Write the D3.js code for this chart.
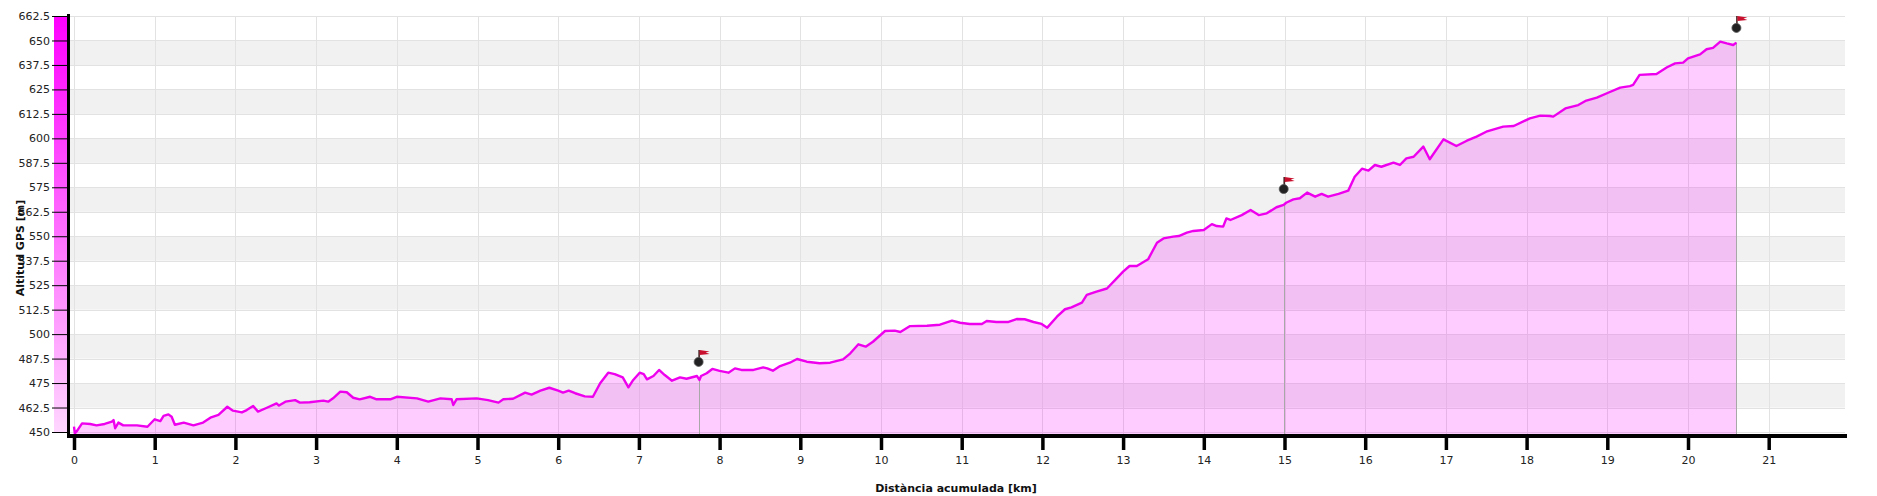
<!DOCTYPE html>
<html>
<head>
<meta charset="utf-8">
<script src="https://cdn.jsdelivr.net/npm/d3@7"></script>
<style>
  body { margin: 0; background: #fff; }
  svg { display: block; font-family: "DejaVu Sans", Verdana, sans-serif; }
</style>
</head>
<body>
<svg id="profile"></svg>
<script>
// profile: distance [km] / GPS altitude [m]
const dist = [0, 0.01, 0.04, 0.1, 0.2, 0.28, 0.38, 0.47, 0.49, 0.51, 0.55, 0.61, 0.78, 0.91,
  1.0, 1.07, 1.11, 1.17, 1.21, 1.25, 1.36, 1.48, 1.6, 1.69, 1.79, 1.9, 1.97,
  2.08, 2.14, 2.22, 2.28, 2.39, 2.51, 2.54, 2.62, 2.74, 2.8, 2.92,
  3.09, 3.15, 3.21, 3.3, 3.38, 3.46, 3.54, 3.67, 3.75, 3.92,
  4.0, 4.25, 4.39, 4.54, 4.68, 4.7, 4.74, 4.99,
  5.13, 5.26, 5.32, 5.44, 5.59, 5.67, 5.78, 5.89,
  6.0, 6.06, 6.13, 6.21, 6.33, 6.43, 6.52, 6.62, 6.7, 6.8, 6.87, 6.93,
  7.01, 7.06, 7.1, 7.18, 7.25, 7.32, 7.41, 7.51, 7.59, 7.72, 7.75, 7.77, 7.84, 7.91,
  8.0, 8.11, 8.19, 8.27, 8.42, 8.54, 8.59, 8.66, 8.75, 8.87, 8.96,
  9.08, 9.24, 9.37, 9.53, 9.62, 9.72, 9.81, 9.9,
  10.05, 10.17, 10.24, 10.36, 10.57, 10.73, 10.88, 10.98,
  11.1, 11.25, 11.31, 11.43, 11.58, 11.68, 11.78, 11.89, 11.99,
  12.06, 12.18, 12.28, 12.36, 12.49, 12.55, 12.67, 12.8, 12.9,
  13.0, 13.08, 13.17, 13.31, 13.42, 13.5, 13.62, 13.69, 13.79, 13.87,
  14.0, 14.1, 14.16, 14.24, 14.28, 14.33, 14.47, 14.58, 14.68, 14.78, 14.9, 14.99,
  15.02, 15.11, 15.19, 15.28, 15.38, 15.46, 15.54, 15.67, 15.79, 15.87, 15.96,
  16.04, 16.12, 16.2, 16.35, 16.43, 16.51, 16.6, 16.72, 16.8, 16.97,
  17.13, 17.26, 17.38, 17.5, 17.71, 17.84,
  18.04, 18.17, 18.29, 18.33, 18.48, 18.64, 18.74, 18.87,
  19.01, 19.16, 19.28, 19.32, 19.4, 19.61, 19.74, 19.84, 19.94,
  20.0, 20.15, 20.23, 20.31, 20.4, 20.48, 20.56, 20.6];
const elev = [452.7, 449.3, 450.7, 454.4, 454.1, 453.4, 454.1, 455.3, 456.1, 451.9, 454.8, 453.4, 453.4, 452.7,
  456.5, 455.6, 458.2, 459.0, 457.8, 453.7, 454.8, 453.4, 454.8, 457.3, 458.7, 462.9, 460.9,
  460.0, 461.2, 463.3, 460.4, 462.4, 464.6, 463.5, 465.5, 466.3, 465.0, 465.2,
  466.0, 465.5, 467.2, 470.6, 470.3, 467.5, 466.7, 468.0, 466.7, 466.7,
  468.0, 467.2, 465.5, 467.2, 466.7, 463.8, 466.7, 467.2,
  466.3, 465.0, 466.7, 467.0, 470.1, 469.1, 471.1, 472.6,
  471.1, 470.1, 471.1, 469.8, 468.2, 468.0, 474.9, 480.3, 479.6, 477.9, 472.8, 476.6,
  480.3, 479.6, 476.9, 478.6, 481.7, 479.1, 476.2, 477.9, 477.2, 478.6, 476.6, 478.6, 480.0, 482.2,
  481.2, 480.3, 482.5, 481.7, 481.7, 483.0, 482.5, 481.3, 483.7, 485.4, 487.3,
  485.9, 485.1, 485.4, 487.1, 490.2, 494.8, 493.6, 496.1,
  501.6, 501.8, 501.1, 504.1, 504.3, 504.8, 506.9, 505.8,
  505.2, 505.2, 506.7, 506.2, 506.2, 507.7, 507.6, 506.2, 505.2,
  503.3, 508.9, 512.7, 513.7, 516.1, 520.0, 521.7, 523.3, 527.6,
  531.9, 534.8, 534.8, 538.2, 546.7, 548.9, 549.8, 550.1, 551.8, 552.7,
  553.2, 556.2, 555.2, 554.9, 559.1, 558.3, 560.8, 563.4, 560.8, 561.7, 564.8, 566.0,
  567.1, 568.8, 569.4, 572.3, 570.2, 571.6, 570.2, 571.6, 573.3, 580.4, 584.5,
  583.5, 586.4, 585.5, 587.6, 586.4, 589.8, 590.6, 595.8, 589.3, 599.5,
  596.1, 598.8, 600.9, 603.4, 606.0, 606.3,
  610.2, 611.6, 611.4, 611.1, 615.3, 617.0, 619.3, 620.8,
  623.3, 625.9, 626.7, 627.3, 632.4, 632.9, 636.3, 638.3, 638.7,
  640.9, 642.9, 645.5, 646.2, 649.4, 648.5, 647.7, 648.9];

// waypoints (flags)
const wpDist = [7.74, 14.99, 20.6];
const wpElev = [485.8, 574.1, 656.4];

const xTicks = [0, 1, 2, 3, 4, 5, 6, 7, 8, 9, 10, 11, 12, 13, 14, 15, 16, 17, 18, 19, 20, 21];
const yTicks = [450, 462.5, 475, 487.5, 500, 512.5, 525, 537.5, 550, 562.5, 575, 587.5,
  600, 612.5, 625, 637.5, 650, 662.5];

const xLabel = 'Distància acumulada [km]';
const yLabel = 'Altitud GPS [m]';

const W = 1877, H = 496;
const plot = { left: 70, right: 1845, top: 16, bottom: 432 };

const x = d3.scaleLinear().domain([0, 22]).range([74, 74 + 22 * 80.7]);
const y = d3.scaleLinear().domain([450, 662.5]).range([plot.bottom, plot.top]);

const svg = d3.select('#profile').attr('width', W).attr('height', H);

// gradient for the colour bar next to the y axis
const grad = svg.append('defs').append('linearGradient')
    .attr('id', 'bar')
    .attr('x1', 0).attr('y1', 0).attr('x2', 0).attr('y2', 1);
grad.append('stop').attr('offset', '0%').attr('stop-color', '#ff00ff');
grad.append('stop').attr('offset', '100%').attr('stop-color', '#ffd6ff');

// alternating bands
svg.append('g')
    .selectAll('rect')
    .data(yTicks.slice(0, -1).filter((d, i) => i % 2 === 1))
    .enter()
    .append('rect')
    .attr('x', plot.left)
    .attr('width', plot.right - plot.left)
    .attr('y', d => y(d + 12.5))
    .attr('height', d => y(d) - y(d + 12.5))
    .attr('fill', '#f1f1f1');

// grid
const grid = svg.append('g').attr('stroke', '#e2e2e2').attr('stroke-width', 1);
grid.selectAll('.h')
    .data(yTicks)
    .enter()
    .append('line')
    .attr('x1', plot.left).attr('x2', plot.right)
    .attr('y1', d => Math.round(y(d)) + 0.5)
    .attr('y2', d => Math.round(y(d)) + 0.5);
grid.selectAll('.v')
    .data(xTicks)
    .enter()
    .append('line')
    .attr('x1', d => Math.round(x(d)) + 0.5)
    .attr('x2', d => Math.round(x(d)) + 0.5)
    .attr('y1', plot.top).attr('y2', plot.bottom + 2);

// profile
const pts = dist.map((d, i) => ({ d: d, e: elev[i] }));

const area = d3.area()
    .x(p => x(p.d))
    .y0(plot.bottom + 2)
    .y1(p => y(p.e));

const line = d3.line()
    .x(p => x(p.d))
    .y(p => y(p.e));

svg.append('path')
    .datum(pts)
    .attr('d', area)
    .attr('fill', 'rgba(255, 0, 255, 0.2)');

// waypoint drop lines
const bis = d3.bisector(p => p.d).left;
function elevAt(km) {
    const i = Math.min(Math.max(bis(pts, km), 1), pts.length - 1);
    const a = pts[i - 1], b = pts[i];
    const t = (km - a.d) / (b.d - a.d);
    return a.e + (b.e - a.e) * Math.max(0, Math.min(1, t));
}

svg.append('g')
    .selectAll('line')
    .data(wpDist)
    .enter()
    .append('line')
    .attr('x1', d => Math.round(x(d)) + 0.5)
    .attr('x2', d => Math.round(x(d)) + 0.5)
    .attr('y1', d => y(elevAt(d)))
    .attr('y2', plot.bottom + 2)
    .attr('stroke', '#a8a8a8')
    .attr('stroke-width', 1);

svg.append('path')
    .datum(pts)
    .attr('d', line)
    .attr('fill', 'none')
    .attr('stroke', '#ee00ee')
    .attr('stroke-width', 2.4)
    .attr('stroke-linejoin', 'round');

// flags
const flags = svg.append('g')
    .selectAll('g')
    .data(wpDist.map((d, i) => ({ d: d, e: wpElev[i] })))
    .enter()
    .append('g')
    .attr('transform', w => `translate(${x(w.d)}, ${y(w.e)})`);

flags.append('line')
    .attr('x1', 0.5).attr('x2', 0.5)
    .attr('y1', 0).attr('y2', -12)
    .attr('stroke', '#3a1a1a')
    .attr('stroke-width', 1.5);
flags.append('path')
    .attr('d', 'M1,-12 L11,-10.5 L7,-9.5 L11,-8 L1,-7 Z')
    .attr('fill', '#c8102e');
flags.append('circle')
    .attr('r', 4.5)
    .attr('fill', '#222')
    .attr('stroke', '#555')
    .attr('stroke-width', 0.8);

// colour bar and axes
svg.append('rect')
    .attr('x', 54).attr('y', plot.top)
    .attr('width', 13).attr('height', plot.bottom - plot.top)
    .attr('fill', 'url(#bar)');

const yAxis = d3.axisLeft(y)
    .tickValues(yTicks)
    .tickFormat(d => String(d))
    .tickSize(15)
    .tickPadding(2);

svg.append('g')
    .attr('transform', 'translate(67, 0)')
    .call(yAxis)
    .call(g => g.select('.domain').remove())
    .call(g => g.selectAll('text')
        .attr('font-size', 11)
        .attr('font-family', '"DejaVu Sans", Verdana, sans-serif')
        .attr('fill', '#222'))
    .call(g => g.selectAll('line').attr('stroke', '#000'));

svg.append('rect')
    .attr('x', 67).attr('y', plot.top - 2)
    .attr('width', 3).attr('height', plot.bottom - plot.top + 8)
    .attr('fill', '#000');

svg.append('rect')
    .attr('x', 67).attr('y', plot.bottom + 2)
    .attr('width', 1847 - 67).attr('height', 4)
    .attr('fill', '#000');

const xAxis = d3.axisBottom(x)
    .tickValues(xTicks)
    .tickFormat(d => String(d))
    .tickSize(12)
    .tickPadding(6);

svg.append('g')
    .attr('transform', `translate(0, ${plot.bottom + 6})`)
    .call(xAxis)
    .call(g => g.select('.domain').remove())
    .call(g => g.selectAll('line').attr('stroke', '#000').attr('stroke-width', 3.5))
    .call(g => g.selectAll('text')
        .attr('font-size', 11)
        .attr('font-family', '"DejaVu Sans", Verdana, sans-serif')
        .attr('fill', '#222'));

// axis titles
svg.append('text')
    .attr('x', 956)
    .attr('y', 492)
    .attr('text-anchor', 'middle')
    .attr('font-size', 11)
    .attr('font-weight', 'bold')
    .attr('fill', '#111')
    .text(xLabel);

svg.append('text')
    .attr('transform', 'translate(24, 248) rotate(-90)')
    .attr('text-anchor', 'middle')
    .attr('font-size', 11)
    .attr('font-weight', 'bold')
    .attr('fill', '#111')
    .text(yLabel);
</script>
</body>
</html>
